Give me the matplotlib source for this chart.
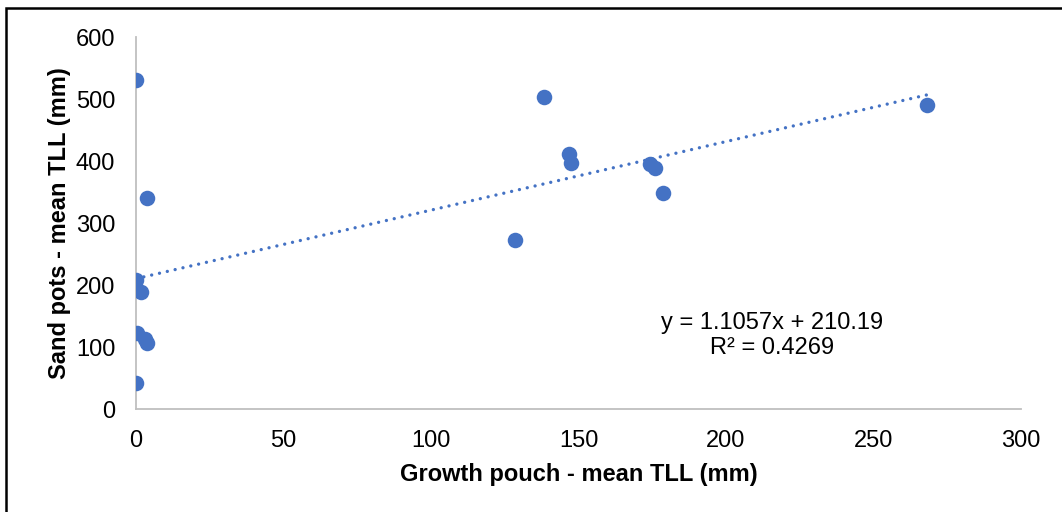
import matplotlib
matplotlib.use("Agg")
import matplotlib.pyplot as plt
from matplotlib.patches import Rectangle
import numpy as np

# Data
growth_pouch = [0, 3.6, 0, 1.8, 0.3, 3.2, 3.7, 0, 128.5, 138.2, 146.8, 147.4, 174.1, 176.1, 178.7, 268.3]
sand_pots = [531, 341, 208, 189, 123, 113, 107, 42, 273, 504, 412, 396, 395, 388, 349, 490]
slope = 1.1057
intercept = 210.19
r_squared = 0.4269
x_ticks = [0, 50, 100, 150, 200, 250, 300]
y_ticks = [0, 100, 200, 300, 400, 500, 600]

plt.rcParams['font.family'] = ['Liberation Sans', 'DejaVu Sans']
color = '#4472C4'

fig = plt.figure(figsize=(10.62, 5.12), dpi=100)
ax = fig.add_axes([136/1062, 1 - 409/512, (1021-136)/1062, (409-37)/512])

ax.scatter(growth_pouch, sand_pots, s=125, color=color, zorder=3, linewidths=0)

xt = np.array([0, max(growth_pouch)])
ax.plot(xt, slope*xt + intercept, color=color, lw=2.4, dashes=[0.01, 2.4],
        dash_capstyle='round', zorder=2)

ax.set_xlim(0, 300)
ax.set_ylim(0, 600)
ax.set_xticks(x_ticks)
ax.set_yticks(y_ticks)
ax.tick_params(length=0, labelsize=17)
ax.tick_params(axis='x', pad=15)
ax.tick_params(axis='y', pad=15)
for sp in ['top', 'right']:
    ax.spines[sp].set_visible(False)
for sp in ['left', 'bottom']:
    ax.spines[sp].set_color('#BFBFBF')
    ax.spines[sp].set_linewidth(1.3)

ax.set_xlabel('Growth pouch - mean TLL (mm)', fontsize=17, fontweight='bold', labelpad=8)
ax.set_ylabel('Sand pots - mean TLL (mm)', fontsize=17, fontweight='bold', labelpad=3)

ax.text(215.5, 119, f'y = {slope}x + {intercept}\nR² = {r_squared}', fontsize=17,
        ha='center', va='center', linespacing=1.2)

fig.patches.append(Rectangle((6/1062, -0.1), 1.2, (1 - 8/512) + 0.1, transform=fig.transFigure,
                             fill=False, edgecolor='black', linewidth=1.8))

fig.savefig('out.png', dpi=100)
